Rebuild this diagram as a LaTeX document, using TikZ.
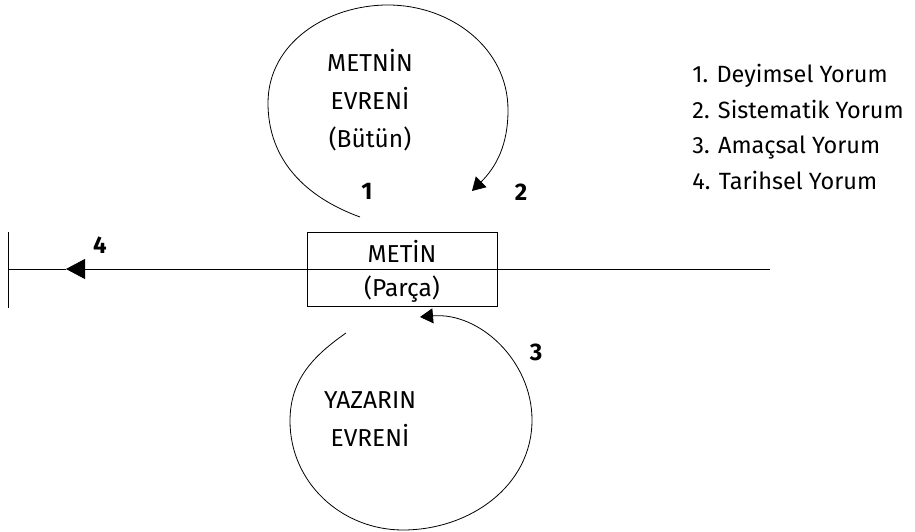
\documentclass[tikz,border=0pt]{standalone}
\usepackage{fontspec}
\setmainfont{Fira Sans}
\usetikzlibrary{arrows.meta}

\tikzset{label/.style={font=\fontsize{24.5}{38}\selectfont, align=center, inner sep=0pt}}
\tikzset{ number/.style={font=\fontsize{24}{24}\selectfont\bfseries, inner sep=0pt}}
\tikzset{ legend/.style={font=\fontsize{23.5}{35.5}\selectfont, align=left, inner sep=0pt, anchor=north west}}
\tikzset{ tiparrow/.style={-{Triangle[length=13pt,width=15pt]}}}

\begin{document}
\begin{tikzpicture}[x=1pt, y=1pt, line width=0.8pt]
  \useasboundingbox (0,0) rectangle (915,532);
      % Metin
  \node[draw, minimum width=190, minimum height=74, inner sep=0pt] (Metin) at (402,263) {};
  \node[label] (MetinText) at (402,281) {METİN};
  \node[label] (ParcaText) at (402,243) {(Parça)};

  \coordinate (LineRight) at (770,263);
  \coordinate (LineLeft) at (8,263);
  \coordinate (TipFour) at (66,263);
  \coordinate (TickTop) at (8,300);
  \coordinate (TickBottom) at (8,224);

  \draw[-{Triangle[length=19pt,width=20pt]}] (LineRight) -- (TipFour);
  \draw (TipFour) -- (LineLeft);
  \draw (TickTop) -- (TickBottom);

      % Evrenler
  \node[label] (MetninEvreni) at (370,432) {METNİN\\EVRENİ\\(Bütün)};
  \node[label] (YazarinEvreni) at (370,113) {YAZARIN\\EVRENİ};

  \coordinate (TopStart) at (360,315);
  \coordinate (TopLeft) at (268,429);
  \coordinate (TopTop) at (388,527);
  \coordinate (TopRight) at (508,422);
  \coordinate (TopEnd) at (472,341);

  \coordinate (BottomStart) at (346,199);
  \coordinate (BottomLeft) at (290,111);
  \coordinate (BottomBottom) at (403,2);
  \coordinate (BottomRight) at (532,112);
  \coordinate (BottomEnd) at (420,215);

  \draw[tiparrow] (TopStart) to[out=160, in=270] (TopLeft)
    to[out=90, in=180] (TopTop) to[out=0, in=90] (TopRight)
    to[out=270, in=45] (TopEnd);
  \draw[tiparrow] (BottomStart) to[out=215, in=90] (BottomLeft)
    to[out=270, in=180] (BottomBottom) to[out=0, in=270] (BottomRight)
    to[out=90, in=5] (BottomEnd);

  \node[number] (One) at (367,341) {1};
  \node[number] (Two) at (521,340) {2};
  \node[number] (Three) at (536,180) {3};
  \node[number] (Four) at (100,287) {4};

      % Yorumlar
  \node[legend] (Yorumlar) at (692,468) {1. Deyimsel Yorum\\2. Sistematik Yorum\\3. Amaçsal Yorum\\4. Tarihsel Yorum};
\end{tikzpicture}
\end{document}
